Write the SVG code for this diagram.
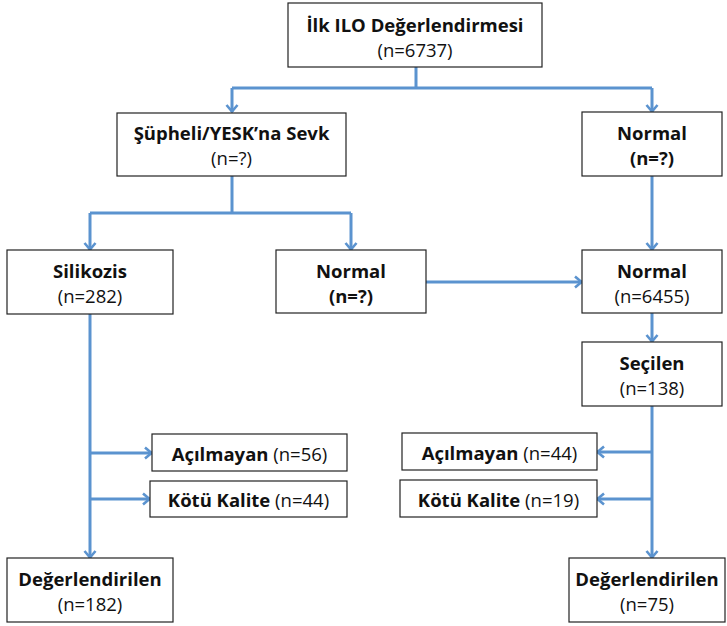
<svg xmlns="http://www.w3.org/2000/svg" width="727" height="626" viewBox="0 0 727 626">
<style>
.box{fill:#fff;stroke:#222;stroke-width:1.2}
.t{font-family:"Open Sans","Liberation Sans",sans-serif;font-size:18.5px;fill:#111;text-anchor:middle}
.b{font-weight:bold}
.c{fill:none;stroke:#5B93CF;stroke-width:3}
</style>
<defs>
<marker id="arr" markerUnits="userSpaceOnUse" markerWidth="14" markerHeight="14" refX="9" refY="7" orient="auto" viewBox="0 0 14 14">
<path d="M2,1.5 L8.5,7 L2,12.5" fill="none" stroke="#5B93CF" stroke-width="2.6"/>
</marker>
</defs>
<rect width="727" height="626" fill="#fff"/>
<g id="connectors">
<path class="c" d="M416,67 V88 M232,88 H652"/>
<path class="c" d="M232,88 V112" marker-end="url(#arr)"/>
<path class="c" d="M652,88 V112" marker-end="url(#arr)"/>
<path class="c" d="M232,176 V213 M90,213 H351"/>
<path class="c" d="M90,213 V250" marker-end="url(#arr)"/>
<path class="c" d="M351,213 V250" marker-end="url(#arr)"/>
<path class="c" d="M426,282 H582" marker-end="url(#arr)"/>
<path class="c" d="M652,176 V250" marker-end="url(#arr)"/>
<path class="c" d="M652,313 V342" marker-end="url(#arr)"/>
<path class="c" d="M90,314 V558" marker-end="url(#arr)"/>
<path class="c" d="M90,453 H152" marker-end="url(#arr)"/>
<path class="c" d="M90,499 H150" marker-end="url(#arr)"/>
<path class="c" d="M652,406 V558" marker-end="url(#arr)"/>
<path class="c" d="M652,452 H597" marker-end="url(#arr)"/>
<path class="c" d="M652,499 H597" marker-end="url(#arr)"/>
</g>
<g id="n-ilk">
<rect class="box" x="288" y="3" width="254" height="64"/>
<text class="t b" x="415" y="32">İlk ILO Değerlendirmesi</text>
<text class="t" x="415" y="57">(n=6737)</text>
</g>
<g id="n-supheli">
<rect class="box" x="117" y="113" width="229" height="63"/>
<text class="t b" x="231.5" y="140">Şüpheli/YESK’na Sevk</text>
<text class="t" x="231.5" y="165">(n=?)</text>
</g>
<g id="n-normal1">
<rect class="box" x="582" y="112" width="140" height="64"/>
<text class="t b" x="652" y="140">Normal</text>
<text class="t b" x="652" y="165">(n=?)</text>
</g>
<g id="n-silikozis">
<rect class="box" x="7" y="250" width="166" height="64"/>
<text class="t b" x="90" y="278">Silikozis</text>
<text class="t" x="90" y="303">(n=282)</text>
</g>
<g id="n-normal2">
<rect class="box" x="276" y="250" width="150" height="63"/>
<text class="t b" x="351" y="278">Normal</text>
<text class="t b" x="351" y="303">(n=?)</text>
</g>
<g id="n-normal3">
<rect class="box" x="582" y="250" width="140" height="63"/>
<text class="t b" x="652" y="278">Normal</text>
<text class="t" x="652" y="303">(n=6455)</text>
</g>
<g id="n-secilen">
<rect class="box" x="582" y="342" width="140" height="64"/>
<text class="t b" x="652" y="370">Seçilen</text>
<text class="t" x="652" y="395">(n=138)</text>
</g>
<g id="n-acilmayan1">
<rect class="box" x="152" y="434" width="195" height="37"/>
<text class="t" x="249.5" y="460.5"><tspan class="b">Açılmayan</tspan> (n=56)</text>
</g>
<g id="n-kotu1">
<rect class="box" x="150" y="481" width="197" height="36"/>
<text class="t" x="248.5" y="507"><tspan class="b">Kötü Kalite</tspan> (n=44)</text>
</g>
<g id="n-acilmayan2">
<rect class="box" x="402" y="433" width="195" height="37"/>
<text class="t" x="499.5" y="459.5"><tspan class="b">Açılmayan</tspan> (n=44)</text>
</g>
<g id="n-kotu2">
<rect class="box" x="400" y="480" width="197" height="37"/>
<text class="t" x="498.5" y="506.5"><tspan class="b">Kötü Kalite</tspan> (n=19)</text>
</g>
<g id="n-deg1">
<rect class="box" x="7" y="558" width="166" height="64"/>
<text class="t b" x="90" y="586">Değerlendirilen</text>
<text class="t" x="90" y="611">(n=182)</text>
</g>
<g id="n-deg2">
<rect class="box" x="569" y="558" width="156" height="64"/>
<text class="t b" x="647" y="586">Değerlendirilen</text>
<text class="t" x="647" y="611">(n=75)</text>
</g>
</svg>
